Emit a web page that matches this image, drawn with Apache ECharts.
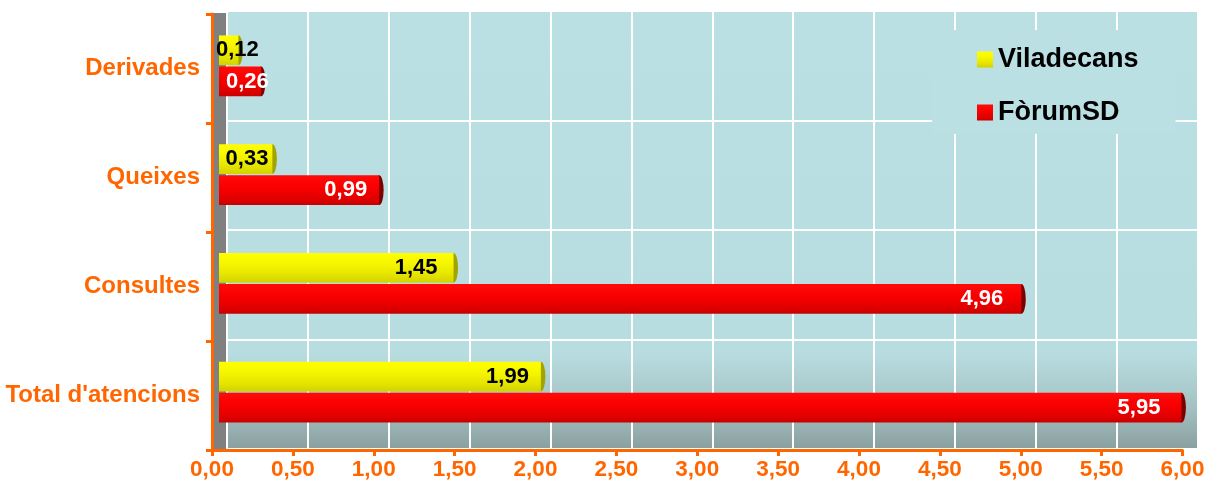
<!DOCTYPE html>
<html>
<head>
<meta charset="utf-8">
<script src="https://cdn.jsdelivr.net/npm/echarts@6/dist/echarts.min.js"></script>
<style>
  html, body { margin: 0; padding: 0; background: #ffffff; }
  #chart { width: 1210px; height: 490px; }
</style>
</head>
<body>
<div id="chart"></div>
<script>
// Categories listed bottom to top along the vertical axis
const categories = ['Total d\'atencions', 'Consultes', 'Queixes', 'Derivades'];
const seriesNames = ['Viladecans', 'FòrumSD'];
const viladecans = [1.99, 1.45, 0.33, 0.12];
const forumSD = [5.95, 4.96, 0.99, 0.26];
const xTicks = { min: 0, max: 6, interval: 0.5 };

// Label placement per bar: distance from the bar end, or from the bar start
// (insideLeft) where the bar is too short to hold its label
const yellowLabelPos = [
  { position: 'insideRight', distance: 12 },
  { position: 'insideRight', distance: 16 },
  { position: 'insideRight', distance: 4 },
  { position: 'insideLeft', distance: -3 }
];
const redLabelPos = [
  { position: 'insideRight', distance: 21 },
  { position: 'insideRight', distance: 18 },
  { position: 'insideRight', distance: 12 },
  { position: 'insideLeft', distance: 7 }
];

const FONT = '"Liberation Sans", Arial, sans-serif';
const ORANGE = '#ff6600';
const fmt = v => v.toFixed(2).replace('.', ',');

const chart = echarts.init(document.getElementById('chart'), null, { renderer: 'canvas' });

// Cylinder shading for each series
const yellowBody = new echarts.graphic.LinearGradient(0, 0, 0, 1, [
  { offset: 0, color: '#ffff00' },
  { offset: 0.35, color: '#f6f600' },
  { offset: 0.7, color: '#e6e600' },
  { offset: 1, color: '#d2d200' }
]);
const redBody = new echarts.graphic.LinearGradient(0, 0, 0, 1, [
  { offset: 0, color: '#ff0a0a' },
  { offset: 0.4, color: '#fa0000' },
  { offset: 0.8, color: '#e00000' },
  { offset: 1, color: '#c80000' }
]);

function barData(values, labelPos) {
  return values.map((v, i) => ({ value: v, label: labelPos[i] }));
}

const BAR_GAP = '5%';
const CAT_GAP = '44%';

const option = {
  animation: false,
  backgroundColor: '#ffffff',
  grid: [
    // 0: front axes
    { left: 212, right: 27.5, top: 14, bottom: 40, show: false },
    // 1: back wall
    {
      left: 227, right: 12.5, top: 11, bottom: 41, show: true, borderWidth: 0,
      backgroundColor: new echarts.graphic.LinearGradient(0, 0, 0, 1, [
        { offset: 0, color: '#bbe0e3' },
        { offset: 0.78, color: '#b8dde0' },
        { offset: 0.9, color: '#a5c3c5' },
        { offset: 1, color: '#8a9f9f' }
      ])
    },
    // 2: side wall
    { left: 213, width: 14, top: 13, bottom: 40, show: true, borderWidth: 0, backgroundColor: '#808080' },
    // 3: bars (sitting at mid depth)
    { left: 219, right: 20.5, top: 11.5, bottom: 43.5, show: false }
  ],
  legend: {
    left: 932, top: 30,
    orient: 'vertical',
    data: seriesNames,
    icon: 'rect',
    itemWidth: 16, itemHeight: 16,
    itemGap: 26,
    padding: [16, 37, 8, 45],
    backgroundColor: '#bae0e3',
    textStyle: { fontFamily: FONT, fontSize: 27, fontWeight: 'bold', color: '#000000' }
  },
  xAxis: [
    {
      gridIndex: 0, type: 'value', min: xTicks.min, max: xTicks.max, interval: xTicks.interval,
      axisLine: { show: true, lineStyle: { color: ORANGE, width: 3 } },
      axisTick: { show: true, length: 6, lineStyle: { color: ORANGE, width: 3 } },
      axisLabel: { fontFamily: FONT, fontSize: 22.5, fontWeight: 'bold', color: ORANGE, margin: 8, formatter: fmt },
      splitLine: { show: false }
    },
    {
      gridIndex: 1, type: 'value', min: xTicks.min, max: xTicks.max, interval: xTicks.interval,
      axisLine: { show: false }, axisTick: { show: false }, axisLabel: { show: false },
      splitLine: { show: true, lineStyle: { color: '#ffffff', width: 2 } }
    },
    {
      gridIndex: 2, type: 'value', min: 0, max: 1,
      axisLine: { show: false }, axisTick: { show: false }, axisLabel: { show: false }, splitLine: { show: false }
    },
    {
      gridIndex: 3, type: 'value', min: xTicks.min, max: xTicks.max,
      axisLine: { show: false }, axisTick: { show: false }, axisLabel: { show: false }, splitLine: { show: false }
    }
  ],
  yAxis: [
    {
      gridIndex: 0, type: 'category', data: categories, z: 5,
      axisLine: { show: true, lineStyle: { color: ORANGE, width: 3 } },
      axisTick: { show: true, length: 6, lineStyle: { color: ORANGE, width: 3 } },
      axisLabel: {
        fontFamily: FONT, fontSize: 24, fontWeight: 'bold', color: ORANGE, margin: 12,
        padding: [5, 0, 0, 0]
      }
    },
    {
      gridIndex: 1, type: 'category', data: categories,
      axisLine: { show: false }, axisTick: { show: false }, axisLabel: { show: false },
      splitLine: { show: true, lineStyle: { color: '#ffffff', width: 2 } }
    },
    {
      gridIndex: 2, type: 'category', data: categories,
      axisLine: { show: false }, axisTick: { show: false }, axisLabel: { show: false }, splitLine: { show: false }
    },
    {
      gridIndex: 3, type: 'category', data: categories,
      axisLine: { show: false }, axisTick: { show: false }, axisLabel: { show: false }, splitLine: { show: false }
    }
  ],
  series: [
    {
      name: seriesNames[0], type: 'bar', xAxisIndex: 3, yAxisIndex: 3,
      barGap: BAR_GAP, barCategoryGap: CAT_GAP,
      data: barData(viladecans, yellowLabelPos),
      itemStyle: { color: yellowBody },
      label: {
        show: true, formatter: p => fmt(p.value),
        fontFamily: FONT, fontSize: 22, fontWeight: 'bold', color: '#000000'
      },
      z: 3
    },
    {
      name: seriesNames[1], type: 'bar', xAxisIndex: 3, yAxisIndex: 3,
      barGap: BAR_GAP, barCategoryGap: CAT_GAP,
      data: barData(forumSD, redLabelPos),
      itemStyle: { color: redBody },
      label: {
        show: true, formatter: p => fmt(p.value),
        fontFamily: FONT, fontSize: 22, fontWeight: 'bold', color: '#ffffff'
      },
      z: 3
    },
    // end caps of the cylinders
    {
      name: seriesNames[0] + ' cap', type: 'pictorialBar', xAxisIndex: 3, yAxisIndex: 3,
      barGap: BAR_GAP, barCategoryGap: CAT_GAP,
      symbol: 'circle', symbolSize: [9, '100%'], symbolPosition: 'end', symbolOffset: ['50%', 0],
      data: viladecans,
      itemStyle: { color: '#a3a300' },
      silent: true, z: 2
    },
    {
      name: seriesNames[1] + ' cap', type: 'pictorialBar', xAxisIndex: 3, yAxisIndex: 3,
      barGap: BAR_GAP, barCategoryGap: CAT_GAP,
      symbol: 'circle', symbolSize: [9, '100%'], symbolPosition: 'end', symbolOffset: ['50%', 0],
      data: forumSD,
      itemStyle: { color: '#7a0000' },
      silent: true, z: 2
    }
  ]
};

chart.setOption(option);
</script>
</body>
</html>
